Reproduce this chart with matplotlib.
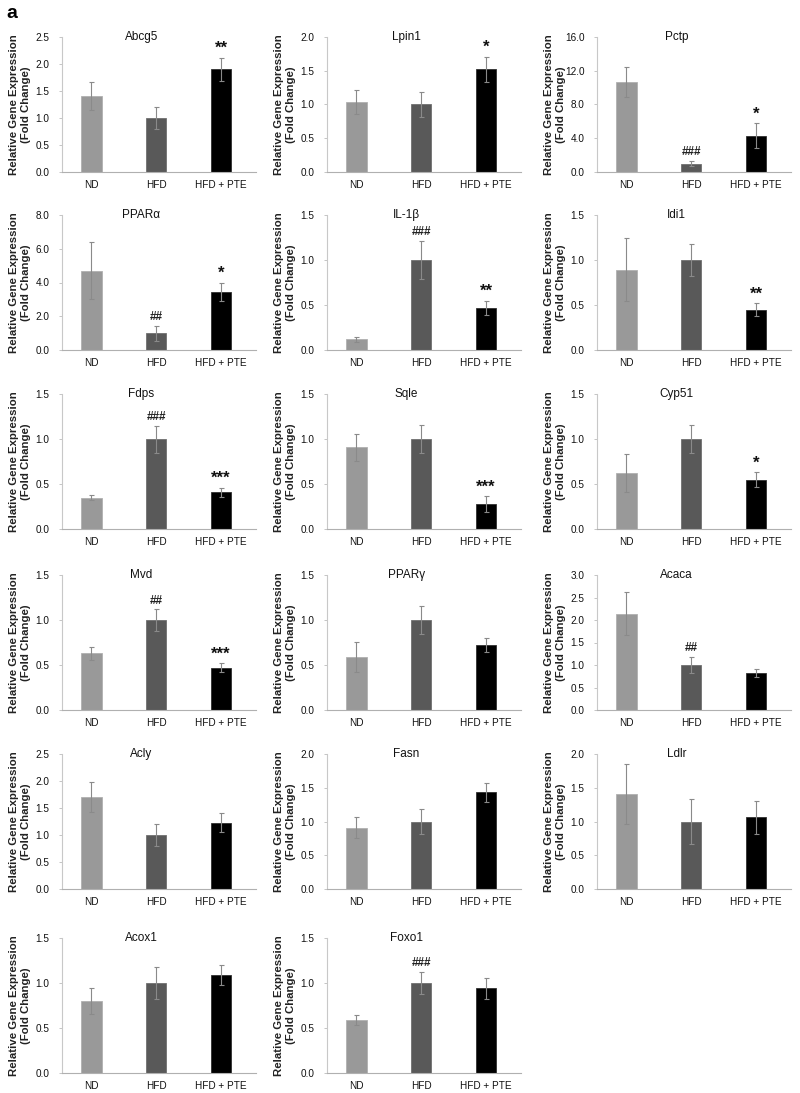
import matplotlib
matplotlib.use("Agg")
import matplotlib.pyplot as plt
import numpy as np

plt.rcParams['font.family'] = ['Liberation Sans', 'DejaVu Sans']

groups = ["ND", "HFD", "HFD + PTE"]
genes = ["Abcg5", "Lpin1", "Pctp", "PPARα", "IL-1β", "Idi1",
         "Fdps", "Sqle", "Cyp51", "Mvd", "PPARγ", "Acaca",
         "Acly", "Fasn", "Ldlr", "Acox1", "Foxo1"]
nd_mean  = [1.40, 1.04, 10.7, 4.70, 0.12, 0.89, 0.35, 0.91, 0.62, 0.63, 0.59, 2.14, 1.70, 0.91, 1.41, 0.80, 0.59]
hfd_mean = [1.00, 1.00, 1.00, 1.00, 1.00, 1.00, 1.00, 1.00, 1.00, 1.00, 1.00, 1.00, 1.00, 1.00, 1.00, 1.00, 1.00]
pte_mean = [1.90, 1.52, 4.30, 3.45, 0.47, 0.45, 0.41, 0.28, 0.55, 0.47, 0.72, 0.83, 1.23, 1.43, 1.06, 1.09, 0.94]
nd_err   = [0.26, 0.18, 1.80, 1.70, 0.03, 0.35, 0.03, 0.15, 0.21, 0.07, 0.17, 0.48, 0.28, 0.15, 0.44, 0.14, 0.06]
hfd_err  = [0.20, 0.18, 0.30, 0.45, 0.21, 0.18, 0.15, 0.16, 0.16, 0.12, 0.16, 0.18, 0.20, 0.19, 0.33, 0.18, 0.12]
pte_err  = [0.22, 0.19, 1.50, 0.55, 0.08, 0.07, 0.05, 0.09, 0.08, 0.05, 0.08, 0.09, 0.18, 0.14, 0.25, 0.11, 0.12]
hfd_sig  = ["", "", "###", "##", "###", "", "###", "", "", "##", "", "##", "", "", "", "", "###"]
pte_sig  = ["**", "*", "*", "*", "**", "**", "***", "***", "*", "***", "", "", "", "", "", "", ""]
y_max    = [2.5, 2.0, 16.0, 8.0, 1.5, 1.5, 1.5, 1.5, 1.5, 1.5, 1.5, 3.0, 2.5, 2.0, 2.0, 1.5, 1.5]
y_step   = [0.5, 0.5, 4.0, 2.0, 0.5, 0.5, 0.5, 0.5, 0.5, 0.5, 0.5, 0.5, 0.5, 0.5, 0.5, 0.5, 0.5]

bar_colors = ["#999999", "#595959", "#000000"]

W, H = 800, 1093
fig = plt.figure(figsize=(W / 100, H / 100), dpi=100)

col_left = [62, 327, 597]
ax_w = 194
row_top = [37, 215, 394, 575, 754, 938]
ax_h = 135

for i, g in enumerate(genes):
    r, c = divmod(i, 3)
    left = col_left[c] / W
    bottom = 1 - (row_top[r] + ax_h) / H
    ax = fig.add_axes([left, bottom, ax_w / W, ax_h / H])
    x = np.arange(3)
    means = [nd_mean[i], hfd_mean[i], pte_mean[i]]
    errs = [nd_err[i], hfd_err[i], pte_err[i]]
    ax.bar(x, means, width=0.32, color=bar_colors, edgecolor=["#b0b0b0", "#707070", "#303030"],
           linewidth=0.6, zorder=2)
    ax.errorbar(x, means, yerr=errs, fmt="none", ecolor="#8a8a8a", elinewidth=0.8,
                capsize=1.8, capthick=0.8, zorder=3)
    ymax = y_max[i]
    ax.set_ylim(0, ymax)
    ax.set_xlim(-0.45, 2.54)
    ticks = np.arange(0, ymax + y_step[i] / 2, y_step[i])
    ax.set_yticks(ticks)
    ax.set_yticklabels([f"{t:.1f}" for t in ticks], fontsize=7.2, color="#111111")
    ax.set_xticks(x)
    ax.set_xticklabels(groups, fontsize=7.2, color="#111111")
    ax.tick_params(axis="x", length=0, pad=6)
    ax.tick_params(axis="y", length=2, width=0.6, color="#bbbbbb", pad=7)
    for s in ["top", "right"]:
        ax.spines[s].set_visible(False)
    ax.spines["left"].set_color("#c8c8c8")
    ax.spines["left"].set_linewidth(0.8)
    ax.spines["bottom"].set_color("#b0b0b0")
    ax.spines["bottom"].set_linewidth(0.8)
    ax.set_ylabel("Relative Gene Expression\n(Fold Change)", fontsize=8.2,
                  fontweight="bold", color="#222222", linespacing=1.25)
    ax.yaxis.set_label_coords(-0.16, 0.5)
    ax.text(0.41, 1.0, g, transform=ax.transAxes, ha="center", va="center",
            fontsize=8.5, color="#111111")
    off = ymax * 0.02
    if hfd_sig[i]:
        ax.text(1, hfd_mean[i] + hfd_err[i] + off, hfd_sig[i], ha="center", va="bottom",
                fontsize=8.5, fontweight="bold", color="#222222")
    if pte_sig[i]:
        ax.text(2, pte_mean[i] + pte_err[i] + off * 0.5, pte_sig[i], ha="center", va="bottom",
                fontsize=12, fontweight="bold", color="#111111")

fig.text(12 / W, 1 - 14 / H, "a", fontsize=14, fontweight="bold", ha="center", va="center")

fig.savefig("out.png", dpi=100, facecolor="white")
